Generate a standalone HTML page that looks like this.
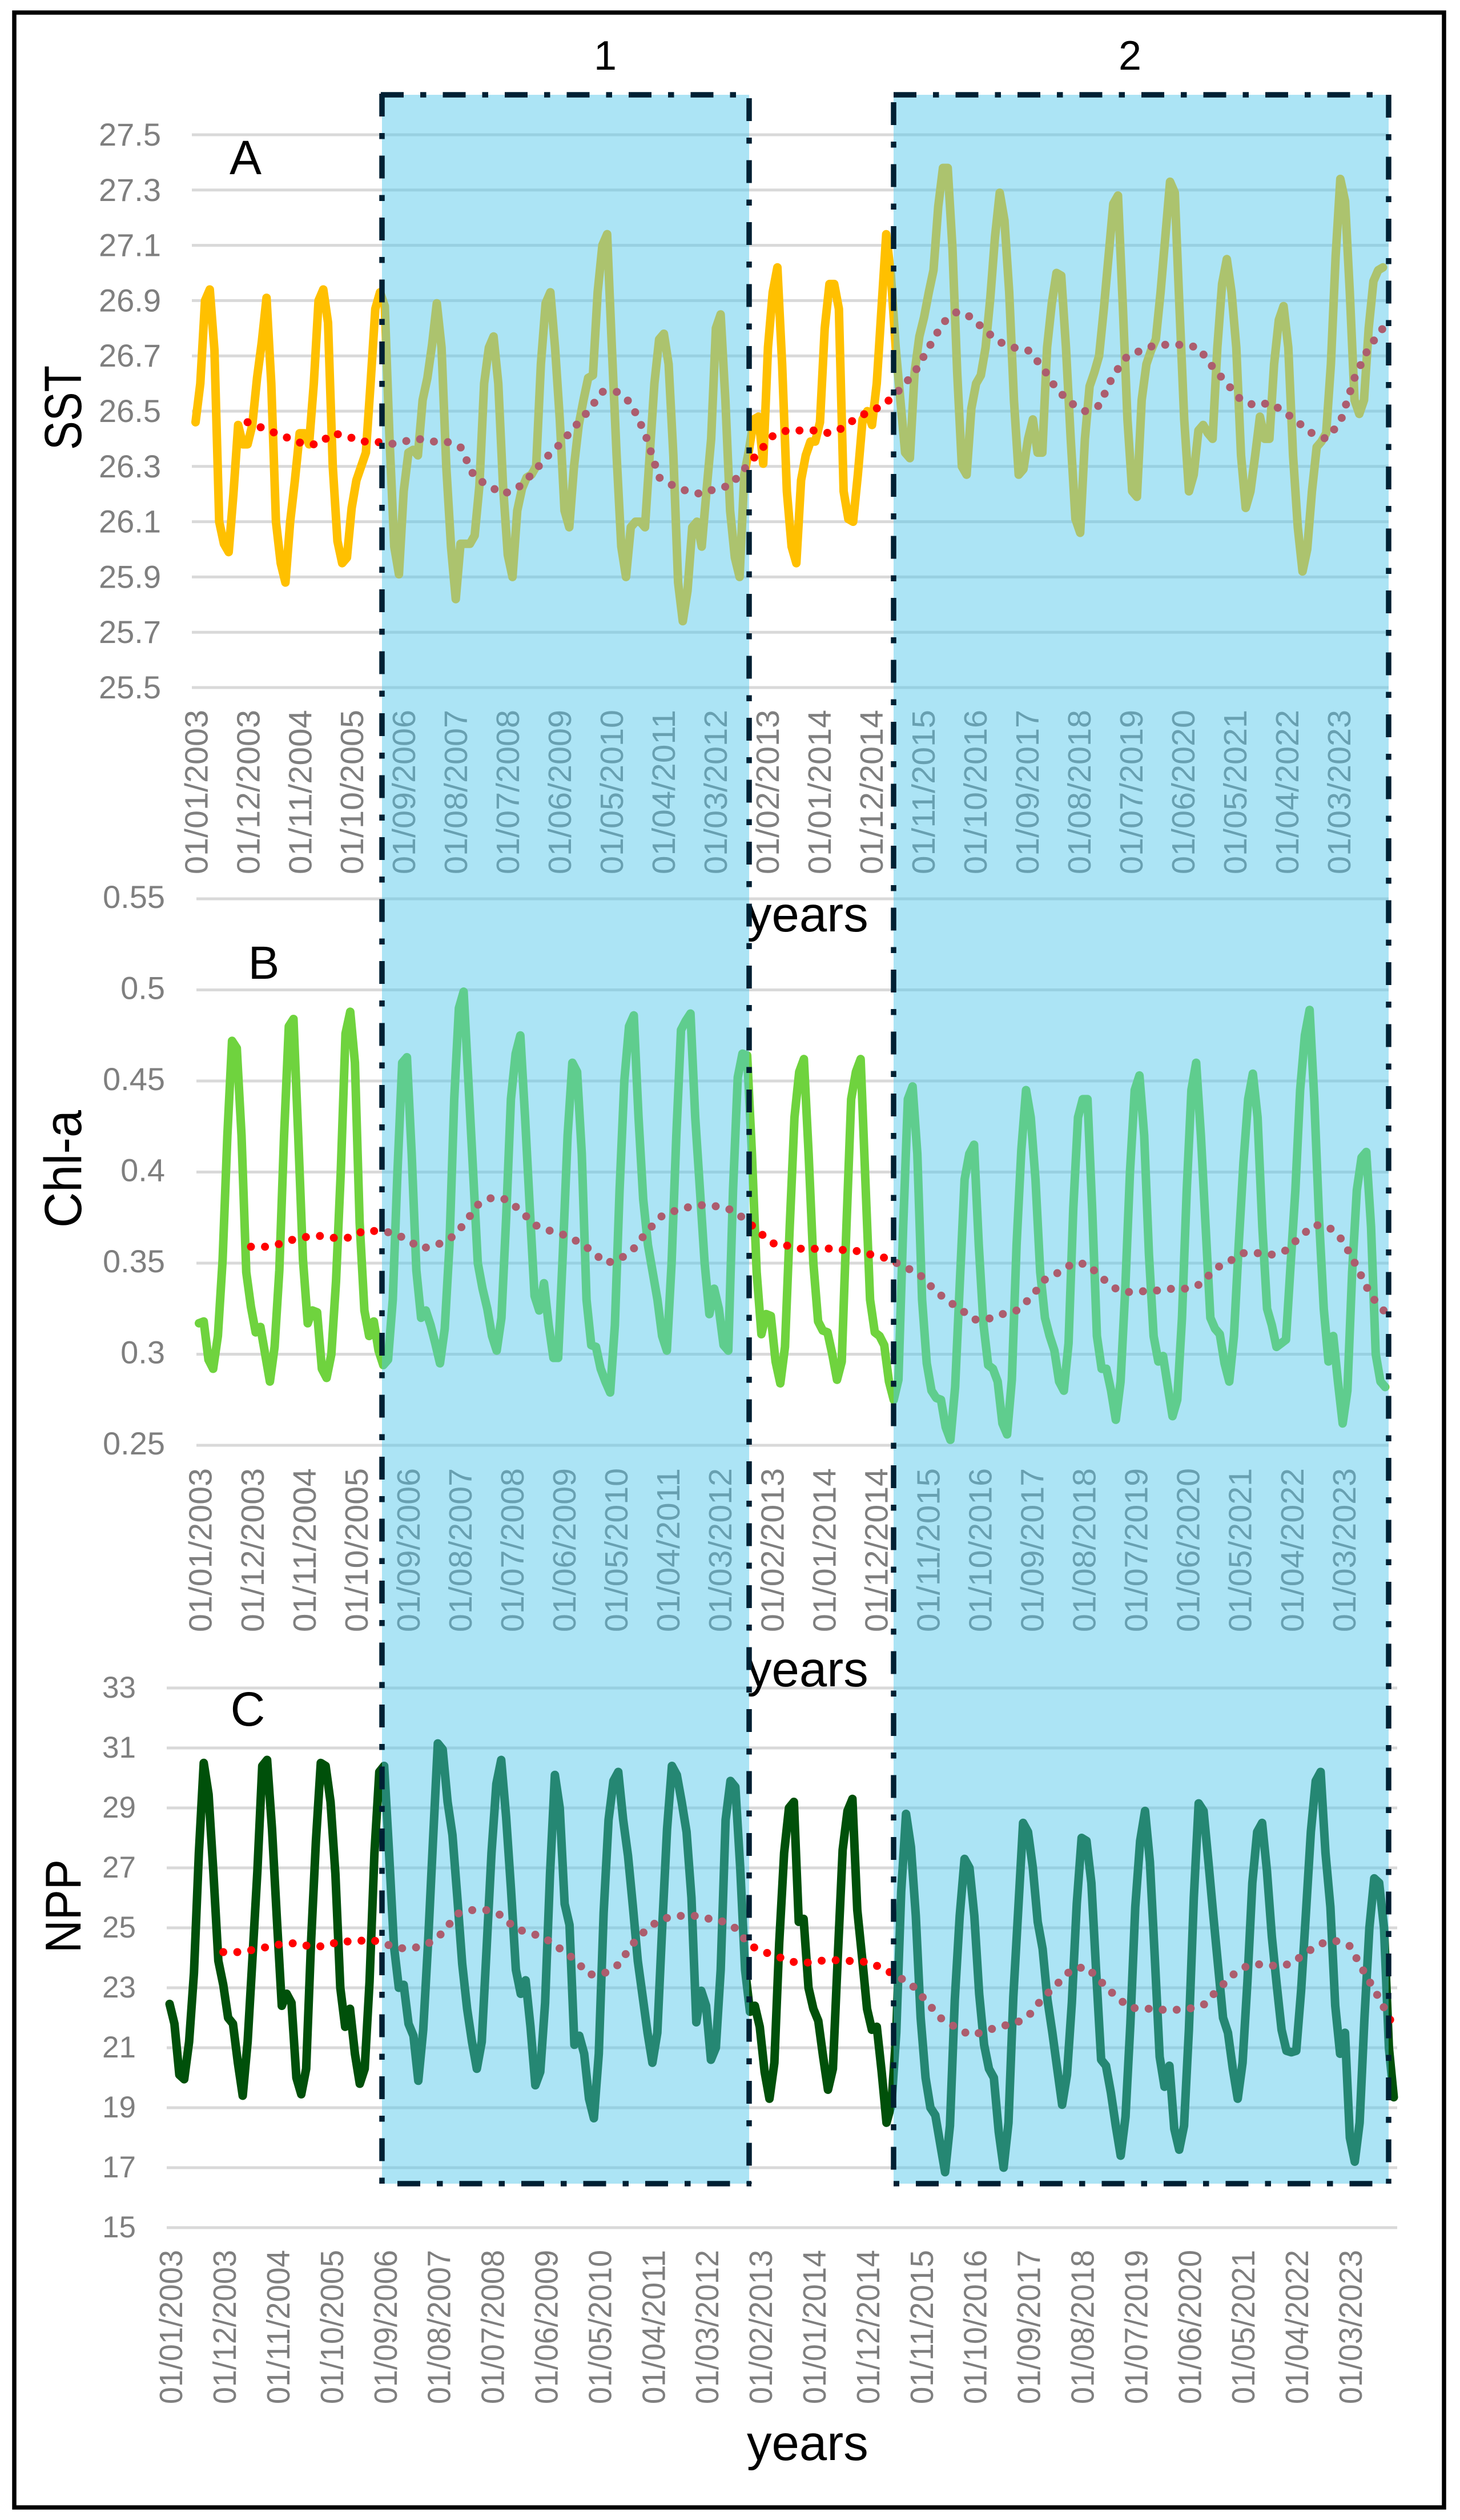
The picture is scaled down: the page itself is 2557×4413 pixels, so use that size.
<!DOCTYPE html>
<html lang="en">
<head>
<meta charset="utf-8">
<title>SST, Chl-a and NPP time series</title>
<style>
html,body{margin:0;padding:0;background:#fff;}
svg{display:block;}
text{font-family:"Liberation Sans",sans-serif;}
</style>
</head>
<body>
<svg id="figure" xmlns="http://www.w3.org/2000/svg" width="2557" height="4413" viewBox="0 0 2557 4413">
  <rect x="0" y="0" width="2557" height="4413" fill="#ffffff"/>
  <g id="charts"></g>
  <text x="430" y="305" font-size="84" text-anchor="middle" fill="#000">A</text>
  <text x="462" y="1714" font-size="82" text-anchor="middle" fill="#000">B</text>
  <text x="434" y="3022" font-size="84" text-anchor="middle" fill="#000">C</text>
  <text transform="translate(142,788) rotate(-90)" font-size="92" textLength="148" lengthAdjust="spacingAndGlyphs" fill="#000">SST</text>
  <text transform="translate(142,2150) rotate(-90)" font-size="92" textLength="206" lengthAdjust="spacingAndGlyphs" fill="#000">Chl-a</text>
  <text transform="translate(141,3420) rotate(-90)" font-size="88" textLength="164" lengthAdjust="spacingAndGlyphs" fill="#000">NPP</text>
  <text x="1308" y="1631" font-size="87" fill="#000">years</text>
  <text x="1308" y="2953" font-size="87" fill="#000">years</text>
  <text x="1308" y="4308" font-size="87" fill="#000">years</text>

  <rect x="669" y="166" width="643" height="3658" fill="rgb(79,198,234)" fill-opacity="0.47"/>
  <rect x="1565" y="166" width="867" height="3658" fill="rgb(79,198,234)" fill-opacity="0.47"/>
  <g stroke="#002033" stroke-width="9.5" fill="none" stroke-dasharray="40 29 10.5 29">
    <line x1="667" y1="166" x2="1312" y2="166"/>
    <line x1="669" y1="164" x2="669" y2="3824"/>
    <line x1="1312" y1="172" x2="1312" y2="3824"/>
    <line x1="696" y1="3824" x2="1316" y2="3824"/>
  </g>
  <g stroke="#002033" stroke-width="9.5" fill="none" stroke-dasharray="40 29 10.5 29">
    <line x1="1565" y1="166" x2="2432" y2="166"/>
    <line x1="1565" y1="179" x2="1565" y2="3824"/>
    <line x1="2432" y1="166" x2="2432" y2="3824"/>
    <line x1="1604" y1="3824" x2="2420" y2="3824"/>
    <line x1="1565" y1="3824" x2="1575" y2="3824" stroke-dasharray="none"/>
  </g>
  <text x="1060" y="122" font-size="72" text-anchor="middle" fill="#000">1</text>
  <text x="1979" y="122" font-size="72" text-anchor="middle" fill="#000">2</text>
  <rect x="25" y="22" width="2504" height="4369" fill="none" stroke="#000" stroke-width="7.5"/>
</svg>
<script>
var dateLabels = ['01/01/2003','01/12/2003','01/11/2004','01/10/2005','01/09/2006','01/08/2007','01/07/2008','01/06/2009','01/05/2010','01/04/2011','01/03/2012','01/02/2013','01/01/2014','01/12/2014','01/11/2015','01/10/2016','01/09/2017','01/08/2018','01/07/2019','01/06/2020','01/05/2021','01/04/2022','01/03/2023'];
var sstTicks = ['27.5','27.3','27.1','26.9','26.7','26.5','26.3','26.1','25.9','25.7','25.5'];
var chlTicks = ['0.55','0.5','0.45','0.4','0.35','0.3','0.25'];
var nppTicks = ['33','31','29','27','25','23','21','19','17','15'];

var sstValues = [
26.46,26.6,26.9,26.94,26.72,26.1,26.02,25.99,26.2,26.45,26.38,26.38,
26.45,26.62,26.75,26.91,26.6,26.1,25.95,25.88,26.1,26.25,26.42,26.42,
26.38,26.6,26.9,26.94,26.82,26.3,26.03,25.95,25.97,26.15,26.25,26.3,
26.35,26.6,26.87,26.93,26.88,26.4,26.01,25.91,26.21,26.35,26.36,26.34,
26.54,26.62,26.74,26.89,26.73,26.3,26.01,25.82,26.02,26.02,26.02,26.05,
26.23,26.6,26.73,26.77,26.6,26.23,25.98,25.9,26.14,26.22,26.26,26.27,
26.3,26.67,26.89,26.93,26.73,26.47,26.14,26.08,26.3,26.45,26.54,26.62,
26.63,26.93,27.1,27.14,26.73,26.34,26.01,25.9,26.08,26.1,26.1,26.08,
26.34,26.6,26.76,26.78,26.67,26.34,25.88,25.74,25.85,26.08,26.1,26.01,
26.21,26.4,26.8,26.85,26.54,26.14,25.97,25.9,26.27,26.36,26.47,26.48,
26.31,26.73,26.93,27.02,26.67,26.21,26.01,25.95,26.25,26.34,26.39,26.39,
26.46,26.8,26.96,26.96,26.87,26.21,26.11,26.1,26.27,26.47,26.5,26.45,
26.6,26.87,27.14,26.99,26.73,26.54,26.35,26.33,26.64,26.77,26.84,26.93,
27.01,27.24,27.38,27.38,27.09,26.64,26.3,26.27,26.51,26.6,26.63,26.73,
26.91,27.13,27.29,27.19,26.93,26.54,26.27,26.29,26.4,26.47,26.35,26.35,
26.73,26.89,27.0,26.99,26.73,26.4,26.11,26.06,26.4,26.59,26.64,26.7,
26.87,27.06,27.25,27.28,26.89,26.47,26.21,26.19,26.54,26.67,26.72,26.76,
26.93,27.13,27.33,27.29,26.87,26.47,26.21,26.27,26.43,26.45,26.42,26.4,
26.73,26.96,27.05,26.93,26.73,26.34,26.15,26.21,26.34,26.48,26.4,26.4,
26.67,26.83,26.88,26.73,26.34,26.08,25.92,26.0,26.21,26.37,26.39,26.42,
26.67,27.06,27.34,27.26,26.93,26.54,26.49,26.54,26.8,26.97,27.01,27.02];

var sstTrend = [26.46,26.44,26.42,26.4,26.38,26.38,26.42,26.41,26.39,26.39,26.38,26.39,26.4,26.39,26.39,26.37,26.26,26.23,26.2,26.22,26.27,26.33,26.38,26.44,26.5,26.57,26.57,26.53,26.42,26.26,26.23,26.21,26.2,26.22,26.23,26.29,26.35,26.41,26.43,26.43,26.43,26.42,26.44,26.48,26.5,26.53,26.58,26.64,26.73,26.82,26.86,26.84,26.79,26.75,26.73,26.72,26.66,26.58,26.53,26.5,26.52,26.63,26.7,26.72,26.74,26.74,26.74,26.73,26.66,26.6,26.54,26.52,26.53,26.5,26.46,26.42,26.4,26.46,26.62,26.73,26.8];

var chlValues = [
.317,.318,.297,.292,.31,.352,.42,.472,.468,.42,.345,.326,
.312,.315,.30,.285,.304,.346,.42,.48,.484,.42,.352,.317,
.324,.323,.292,.287,.30,.34,.40,.476,.488,.46,.372,.324,
.31,.318,.302,.294,.297,.33,.40,.46,.463,.41,.346,.32,
.324,.316,.306,.295,.314,.36,.44,.49,.499,.45,.40,.35,
.336,.325,.31,.302,.32,.375,.44,.465,.475,.43,.38,.332,
.324,.339,.316,.298,.298,.356,.42,.46,.455,.41,.33,.305,
.304,.292,.285,.279,.316,.39,.45,.48,.486,.43,.385,.36,
.345,.33,.31,.302,.35,.42,.478,.483,.487,.43,.39,.35,
.322,.336,.325,.305,.302,.39,.452,.465,.464,.41,.345,.311,
.322,.321,.296,.284,.304,.37,.43,.455,.462,.41,.35,.318,
.313,.312,.30,.286,.296,.37,.44,.455,.462,.396,.33,.312,
.31,.305,.285,.275,.286,.37,.44,.447,.41,.33,.295,.28,
.276,.275,.26,.253,.282,.34,.396,.41,.415,.36,.316,.294,
.292,.285,.262,.256,.286,.36,.412,.445,.43,.396,.345,.32,
.31,.302,.285,.28,.306,.38,.43,.44,.44,.38,.31,.292,
.292,.28,.264,.285,.336,.40,.445,.453,.42,.355,.31,.296,
.299,.282,.266,.275,.32,.39,.445,.46,.42,.37,.32,.314,
.311,.295,.285,.31,.36,.405,.44,.454,.43,.37,.325,.316,
.304,.306,.308,.35,.39,.445,.475,.489,.44,.375,.325,.296,
.31,.285,.262,.28,.345,.39,.408,.411,.37,.30,.285,.282];

var chlTrend = [.359,.359,.3605,.363,.3645,.365,.3637,.364,.368,.3675,.3667,.363,.358,.3597,.363,.371,.382,.386,.385,.379,.371,.368,.3657,.362,.357,.35,.352,.358,.368,.376,.379,.381,.382,.381,.379,.373,.366,.36,.3595,.3575,.358,.358,.357,.3565,.354,.3525,.348,.345,.337,.33,.325,.319,.3194,.322,.324,.331,.341,.345,.35,.3495,.342,.336,.334,.3346,.335,.336,.336,.3385,.347,.351,.3555,.3555,.3547,.357,.3645,.371,.37,.3625,.348,.332,.323];

var nppValues = [
22.46,21.8,20.1,19.95,21.2,23.5,27.5,30.5,29.45,26.8,23.9,23.1,
22.0,21.8,20.5,19.4,21.2,24.0,26.9,30.4,30.6,28.3,25.3,22.4,
22.8,22.5,20.0,19.45,20.3,24.5,27.9,30.5,30.4,29.2,26.8,23.0,
21.7,22.3,20.8,19.8,20.3,23.2,27.5,30.2,30.4,27.5,24.4,23.0,
23.1,21.8,21.4,19.9,21.6,24.5,27.9,31.15,30.95,29.2,28.1,26.0,
23.8,22.3,21.2,20.3,21.2,24.3,27.5,29.8,30.6,28.7,26.3,23.6,
22.8,23.25,21.7,19.75,20.2,22.5,26.8,30.1,29.0,25.8,25.1,21.1,
21.4,20.8,19.3,18.65,20.8,25.5,28.6,29.9,30.2,28.6,27.4,25.7,
23.9,22.7,21.5,20.5,21.5,25.0,28.3,30.4,30.1,29.2,28.2,26.0,
21.85,22.9,22.4,20.6,21.0,23.6,28.6,29.9,29.7,27.0,23.6,22.2,
22.4,21.7,20.2,19.3,20.5,24.5,27.5,29.0,29.2,25.2,25.3,23.0,
22.3,21.9,20.7,19.6,20.3,24.0,27.6,28.9,29.3,25.6,24.0,22.3,
21.6,21.7,20.2,18.5,19.1,21.5,26.2,28.8,27.7,25.4,22.0,20.0,
19.0,18.75,17.8,16.85,18.4,22.6,25.4,27.3,27.0,25.4,22.8,21.1,
20.3,20.0,18.2,17.0,18.5,22.7,25.6,28.5,28.2,27.0,25.2,24.3,
22.6,21.5,20.3,19.1,20.1,22.5,25.8,28.0,27.9,26.5,23.5,20.6,
20.4,19.5,18.4,17.4,18.7,21.8,25.7,27.9,28.9,27.2,24.0,20.7,
19.7,20.4,18.3,17.6,18.4,21.6,26.0,29.15,28.9,27.2,25.4,23.7,
22.0,21.5,20.3,19.3,20.5,23.2,26.5,28.2,28.5,26.9,24.7,23.1,
21.6,20.9,20.85,20.9,22.9,25.5,28.2,29.9,30.2,27.5,25.7,22.4,
20.8,21.5,18.0,17.2,18.5,22.0,25.0,26.65,26.5,25.0,21.0,19.35];

var nppTrend = [24.19,24.19,24.26,24.36,24.46,24.49,24.37,24.39,24.56,24.53,24.62,24.47,24.32,24.32,24.47,24.83,25.47,25.59,25.59,25.42,24.96,24.83,24.65,24.31,23.95,23.44,23.47,23.77,24.47,24.99,25.3,25.39,25.42,25.32,25.24,24.99,24.41,24.19,24.02,23.86,23.84,23.91,23.92,23.89,23.86,23.67,23.4,23.13,22.58,22.0,21.7,21.43,21.52,21.72,21.78,22.04,22.65,23.13,23.62,23.7,23.2,22.71,22.33,22.31,22.27,22.26,22.3,22.43,22.95,23.43,23.74,23.79,23.72,23.8,24.17,24.47,24.57,24.39,23.5,22.65,21.7];

var trendFirstMonth = 11;
var trendMonthStep = 3;

var SVG_NS = 'http://www.w3.org/2000/svg';
var charts = document.getElementById('charts');

function linearAxis(d0, r0, d1, r1) {
  return function (v) { return r0 + (v - d0) * (r1 - r0) / (d1 - d0); };
}

function pathFrom(values, xFn, yFn, monthOf) {
  var d = '';
  for (var i = 0; i < values.length; i++) {
    d += (i ? 'L' : 'M') + xFn(monthOf(i)).toFixed(1) + ' ' + yFn(values[i]).toFixed(1);
  }
  return d;
}

function drawPanel(cfg) {
  var group = document.createElementNS(SVG_NS, 'g');
  
  
  charts.appendChild(group);

  cfg.ticks.forEach(function (t) {
    var gy = cfg.y(parseFloat(t));
    var grid = document.createElementNS(SVG_NS, 'line');
    
    
    grid.setAttribute('x1', cfg.gridLeft);
    grid.setAttribute('x2', cfg.gridRight);
    grid.setAttribute('y1', gy);
    grid.setAttribute('y2', gy);
    grid.setAttribute('stroke', '#d9d9d9');
    grid.setAttribute('stroke-width', '5');
    group.appendChild(grid);

    var label = document.createElementNS(SVG_NS, 'text');
    
    
    label.setAttribute('x', cfg.tickRight);
    label.setAttribute('y', gy + cfg.tickDy);
    label.setAttribute('text-anchor', 'end');
    label.setAttribute('font-size', cfg.tickSize);
    label.setAttribute('fill', '#7f7f7f');
    label.textContent = t;
    group.appendChild(label);
  });

  dateLabels.forEach(function (t, k) {
    var lx = cfg.labelX(k);
    var date = document.createElementNS(SVG_NS, 'text');
    
    
    date.setAttribute('transform', 'translate(' + (lx + 20.7) + ',' + cfg.labelBottom + ') rotate(-90)');
    date.setAttribute('font-size', '57');
    date.setAttribute('fill', '#7f7f7f');
    date.setAttribute('textLength', cfg.labelLength);
    date.setAttribute('lengthAdjust', 'spacingAndGlyphs');
    date.textContent = t;
    group.appendChild(date);
  });

  var line = document.createElementNS(SVG_NS, 'path');
  
  
  line.setAttribute('d', pathFrom(cfg.values, cfg.x, cfg.y, function (i) { return i; }));
  line.setAttribute('fill', 'none');
  line.setAttribute('stroke', cfg.color);
  line.setAttribute('stroke-width', '15');
  line.setAttribute('stroke-linejoin', 'round');
  line.setAttribute('stroke-linecap', 'round');
  group.appendChild(line);

  var trend = document.createElementNS(SVG_NS, 'path');
  
  
  trend.setAttribute('d', pathFrom(cfg.trend, cfg.x, cfg.y, function (i) { return trendFirstMonth + i * trendMonthStep; }));
  trend.setAttribute('fill', 'none');
  trend.setAttribute('stroke', '#ff0000');
  trend.setAttribute('stroke-width', '14');
  trend.setAttribute('stroke-linecap', 'round');
  trend.setAttribute('stroke-dasharray', '0 24.6');
  group.appendChild(trend);
}

drawPanel({
  id: 'sst', values: sstValues, trend: sstTrend, ticks: sstTicks, color: '#ffc000',
  x: linearAxis(0, 342.5, 251, 2422),
  y: linearAxis(27.5, 236, 25.5, 1204),
  gridLeft: 336, gridRight: 2432, tickRight: 282, tickDy: 19, tickSize: 56,
  labelX: function (k) { return 342.6 + k * 90.98; }, labelBottom: 1531, labelLength: 288
});
drawPanel({
  id: 'chl-a', values: chlValues, trend: chlTrend, ticks: chlTicks, color: '#6fd33e',
  x: linearAxis(0, 348.5, 251, 2426),
  y: linearAxis(0.55, 1574, 0.25, 2531),
  gridLeft: 344, gridRight: 2432, tickRight: 289, tickDy: 16, tickSize: 56,
  labelX: function (k) { return 350 + k * 91.05; }, labelBottom: 2858, labelLength: 287
});
drawPanel({
  id: 'npp', values: nppValues, trend: nppTrend, ticks: nppTicks, color: '#00500a',
  x: linearAxis(0, 297, 251, 2441),
  y: linearAxis(33, 2956, 15, 3901),
  gridLeft: 292, gridRight: 2447, tickRight: 238, tickDy: 17, tickSize: 53,
  labelX: function (k) { return 298.5 + k * 93.9; }, labelBottom: 4210, labelLength: 270
});
</script>
</body>
</html>
